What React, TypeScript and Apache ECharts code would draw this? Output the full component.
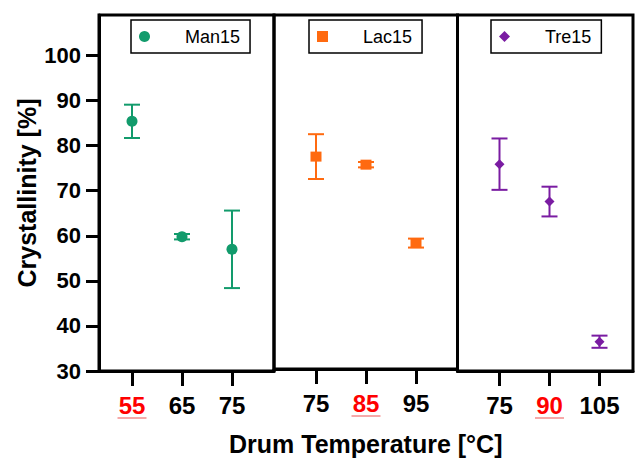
import React, { useEffect, useRef } from 'react';
import * as echarts from 'echarts';

const groupNames = ['Man15', 'Lac15', 'Tre15'];
const manTemps = ['55', '65', '75'];
const lacTemps = ['75', '85', '95'];
const treTemps = ['75', '90', '105'];
const manValues = [85.4, 59.8, 57.0];
const manErrors = [3.7, 0.6, 8.6];
const lacValues = [77.4, 75.6, 58.1];
const lacErrors = [5.0, 0.6, 1.0];
const treValues = [75.9, 67.6, 36.5];
const treErrors = [5.7, 3.3, 1.35];
const redLabelIndex = [0, 1, 1];
const yTicks = [30, 40, 50, 60, 70, 80, 90, 100];

const colors = ['#129b6c', '#ff6a10', '#7a1ca2'];
const symbols = ['circle', 'rect', 'diamond'];
const symbolSizes: any[] = [11, [11, 10], 10];
const FONT = "'Liberation Sans', Arial, sans-serif";

export default function App() {
  const ref = useRef<HTMLDivElement>(null);
  useEffect(() => {
    document.body.style.margin = '0';
    const chart = echarts.init(ref.current!, undefined, { renderer: 'svg' });
    const temps = [manTemps, lacTemps, treTemps];
    const values = [manValues, lacValues, treValues];
    const errors = [manErrors, lacErrors, treErrors];

    const grids = [
      { left: 99, top: 15, width: 175, height: 356 },
      { left: 274, top: 15, width: 183.5, height: 356 },
      { left: 457.5, top: 15, width: 175.5, height: 356 },
    ].map((g) => ({ ...g, show: true, borderWidth: 3, borderColor: '#000', backgroundColor: 'transparent' }));

    const xRanges = [
      [-0.66, 2.84],
      [-0.84, 2.83],
      [-0.84, 2.67],
    ];

    const xAxis = [0, 1, 2].map((i) => ({
      type: 'value',
      gridIndex: i,
      min: xRanges[i][0],
      max: xRanges[i][1],
      axisLine: { show: true, onZero: false, lineStyle: { color: '#000', width: 3 } },
      axisTick: { show: true, customValues: [0, 1, 2], length: 15, lineStyle: { color: '#000', width: 3 } },
      splitLine: { show: false },
      axisLabel: {
        customValues: [0, 1, 2],
        margin: 22,
        fontSize: 24,
        fontWeight: 'bold',
        fontFamily: FONT,
        color: '#000',
        lineHeight: 24,
        formatter: (v: number) => {
          const idx = Math.round(v);
          const t = temps[i][idx];
          if (idx === redLabelIndex[i]) return '{r|' + t + '}\n{u| }';
          return t;
        },
        rich: {
          r: { color: '#ff0000', fontSize: 24, fontWeight: 'bold', fontFamily: FONT, lineHeight: 24 },
          u: { width: 29, height: 2, lineHeight: 2, fontSize: 2, backgroundColor: '#f6a9a9' },
        },
      },
      ...(i === 1
        ? {
            name: 'Drum Temperature [°C]',
            nameLocation: 'middle',
            nameGap: 62,
            nameTextStyle: { fontSize: 25, fontWeight: 'bold', fontFamily: FONT, color: '#000' },
          }
        : {}),
    }));

    const yAxis = [0, 1, 2].map((i) => ({
      type: 'value',
      gridIndex: i,
      min: 30,
      max: 109,
      splitLine: { show: false },
      axisLine: { show: i === 0, onZero: false, lineStyle: { color: '#000', width: 3 } },
      axisTick: { show: i === 0, customValues: yTicks, length: 13, lineStyle: { color: '#000', width: 3 } },
      axisLabel: {
        show: i === 0,
        customValues: yTicks,
        margin: 18,
        fontSize: 22,
        fontWeight: 'bold',
        fontFamily: FONT,
        color: '#000',
      },
      ...(i === 0
        ? {
            name: 'Crystallinity [%]',
            nameLocation: 'middle',
            nameRotate: 90,
            nameGap: 60,
            nameTextStyle: { fontSize: 25, fontWeight: 'bold', fontFamily: FONT, color: '#000' },
          }
        : {}),
    }));

    const series: any[] = [];
    [0, 1, 2].forEach((i) => {
      const color = colors[i];
      series.push({
        type: 'custom',
        name: groupNames[i] + ' error',
        xAxisIndex: i,
        yAxisIndex: i,
        encode: { x: 0, y: [1, 2] },
        data: values[i].map((v, k) => [k, v - errors[i][k], v + errors[i][k]]),
        renderItem: (params: any, api: any) => {
          const x = api.value(0);
          const top = api.coord([x, api.value(2)]);
          const bot = api.coord([x, api.value(1)]);
          const hw = 8;
          const st = { stroke: color, lineWidth: 2 };
          return {
            type: 'group',
            children: [
              { type: 'line', shape: { x1: top[0], y1: top[1], x2: bot[0], y2: bot[1] }, style: st },
              { type: 'line', shape: { x1: top[0] - hw, y1: top[1], x2: top[0] + hw, y2: top[1] }, style: st },
              { type: 'line', shape: { x1: bot[0] - hw, y1: bot[1], x2: bot[0] + hw, y2: bot[1] }, style: st },
            ],
          };
        },
        z: 2,
      });
      series.push({
        type: 'scatter',
        name: groupNames[i],
        xAxisIndex: i,
        yAxisIndex: i,
        symbol: symbols[i],
        symbolSize: symbolSizes[i],
        itemStyle: { color, opacity: 1 },
        data: values[i].map((v, k) => [k, v]),
        z: 3,
      });
    });

    const legendLefts = [131, 309, 491];
    const legend = [0, 1, 2].map((i) => ({
      data: [groupNames[i]],
      left: legendLefts[i],
      top: 20,
      orient: 'horizontal',
      padding: [7, 10, 7, 8],
      borderColor: '#000',
      borderWidth: 1.5,
      itemWidth: 11,
      itemHeight: 11,
      selectedMode: false,
      textStyle: { fontSize: 18, fontFamily: FONT, color: '#000', padding: [0, 0, 0, 30], lineHeight: 19 },
    }));

    chart.setOption({
      animation: false,
      backgroundColor: '#fff',
      grid: grids,
      xAxis,
      yAxis,
      legend,
      series,
    });
    return () => chart.dispose();
  }, []);
  return <div ref={ref} style={{ width: 635, height: 461 }} />;
}
